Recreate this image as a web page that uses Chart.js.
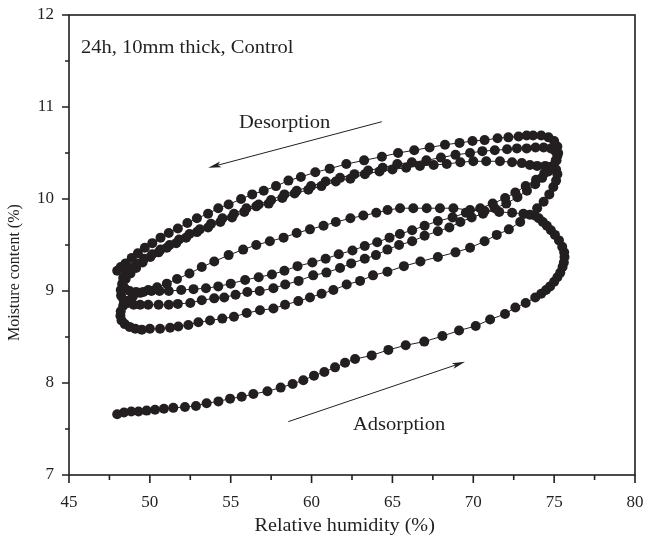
<!DOCTYPE html>
<html>
<head>
<meta charset="utf-8">
<script src="https://cdn.jsdelivr.net/npm/chart.js@4/dist/chart.umd.min.js"></script>
<style>
  html, body { margin: 0; padding: 0; background: #fff; }
  canvas { display: block; }
</style>
</head>
<body>
<canvas id="cycleChart" width="647" height="542"></canvas>
<script>
// [RH %, MC %] readings, one array per half cycle, in time order
const adsorption1 = [
    [47.98, 7.66], [48.4, 7.68], [48.85, 7.69], [49.3, 7.69], [49.8, 7.70], [50.32, 7.71],
    [50.87, 7.72], [51.45, 7.73], [52.17, 7.74], [52.85, 7.75], [53.51, 7.78], [54.24, 7.80],
    [54.96, 7.83], [55.68, 7.85], [56.4, 7.88], [57.27, 7.91], [58.09, 7.95], [58.83, 7.99],
    [59.49, 8.03], [60.15, 8.08], [60.79, 8.12], [61.45, 8.17], [62.07, 8.22], [62.69, 8.26],
    [63.72, 8.30], [64.75, 8.36], [65.82, 8.41], [66.97, 8.45], [68.09, 8.51], [69.12, 8.57],
    [70.15, 8.62], [71.04, 8.69], [71.96, 8.75], [72.6, 8.82], [73.24, 8.87], [73.83, 8.93],
    [74.2, 8.97], [74.5, 9.01], [74.75, 9.05], [75.0, 9.10], [75.2, 9.15], [75.38, 9.20],
    [75.52, 9.26], [75.6, 9.31], [75.64, 9.37], [75.62, 9.42], [75.5, 9.48], [75.3, 9.55],
    [75.05, 9.61], [74.8, 9.66], [74.55, 9.71], [74.3, 9.75], [74.05, 9.79], [73.8, 9.82]
];
const desorption1 = [
    [73.1, 9.84], [72.4, 9.85], [71.6, 9.86], [70.7, 9.87], [69.8, 9.88], [68.77, 9.90],
    [67.94, 9.90], [67.12, 9.90], [66.29, 9.90], [65.47, 9.90], [64.7, 9.88], [64.0, 9.85],
    [63.2, 9.82], [62.4, 9.79], [61.5, 9.75], [60.74, 9.71], [59.9, 9.67], [59.08, 9.63],
    [58.27, 9.58], [57.42, 9.54], [56.58, 9.50], [55.77, 9.45], [54.87, 9.39], [53.98, 9.32],
    [53.21, 9.26], [52.45, 9.19], [51.68, 9.13], [51.05, 9.08], [50.45, 9.04], [49.9, 9.01],
    [49.4, 8.98], [48.95, 8.94], [48.6, 8.89], [48.35, 8.84], [48.2, 8.78], [48.18, 8.73],
    [48.25, 8.68], [48.45, 8.64], [48.75, 8.61], [49.1, 8.59], [49.5, 8.58]
];
const adsorption2 = [
    [50.0, 8.59], [50.63, 8.59], [51.25, 8.60], [51.76, 8.615], [52.38, 8.63], [53.0, 8.66],
    [53.72, 8.68], [54.48, 8.70], [55.2, 8.72], [55.99, 8.76], [56.81, 8.79], [57.64, 8.81],
    [58.36, 8.85], [59.18, 8.89], [59.9, 8.93], [60.62, 8.97], [61.35, 9.01], [62.17, 9.07],
    [63.0, 9.11], [63.8, 9.17], [64.69, 9.21], [65.71, 9.27], [66.73, 9.32], [67.81, 9.37],
    [68.9, 9.42], [69.8, 9.47], [70.7, 9.54], [71.45, 9.61], [72.2, 9.67], [72.9, 9.75],
    [73.5, 9.83], [73.95, 9.90], [74.35, 9.97], [74.7, 10.05], [74.95, 10.13], [75.12, 10.20],
    [75.2, 10.27], [75.12, 10.32], [74.85, 10.35], [74.45, 10.36]
];
const desorption2 = [
    [73.95, 10.36], [73.5, 10.37], [73.0, 10.39], [72.4, 10.40], [71.65, 10.41], [70.8, 10.41],
    [70.0, 10.41], [69.2, 10.40], [68.36, 10.38], [67.55, 10.37], [66.7, 10.36], [65.85, 10.34],
    [65.0, 10.32], [64.2, 10.30], [63.3, 10.27], [62.4, 10.22], [61.5, 10.19], [60.61, 10.14],
    [59.8, 10.10], [58.95, 10.06], [58.19, 10.01], [57.35, 9.95], [56.58, 9.92], [55.84, 9.86],
    [55.08, 9.80], [54.36, 9.75], [53.6, 9.69], [52.91, 9.64], [52.24, 9.58], [51.63, 9.52],
    [51.05, 9.47], [50.54, 9.42], [50.03, 9.37], [49.55, 9.31], [49.15, 9.25], [48.8, 9.19],
    [48.5, 9.13], [48.3, 9.07], [48.2, 9.01], [48.22, 8.95], [48.38, 8.90], [48.65, 8.87],
    [49.0, 8.85], [49.4, 8.85]
];
const adsorption3 = [
    [49.9, 8.85], [50.54, 8.85], [51.17, 8.85], [51.73, 8.86], [52.5, 8.87], [53.21, 8.90],
    [53.98, 8.92], [54.6, 8.93], [55.3, 8.96], [56.03, 8.99], [56.79, 9.00], [57.64, 9.03],
    [58.37, 9.07], [59.2, 9.11], [60.1, 9.17], [60.92, 9.20], [61.76, 9.25], [62.45, 9.30],
    [63.29, 9.35], [63.98, 9.39], [64.69, 9.45], [65.41, 9.50], [66.22, 9.54], [66.99, 9.60],
    [67.81, 9.65], [68.52, 9.69], [69.2, 9.75], [69.9, 9.80], [70.6, 9.84], [71.33, 9.90],
    [72.04, 9.95], [72.73, 10.02], [73.32, 10.09], [73.83, 10.16], [74.26, 10.23], [74.64, 10.30],
    [74.95, 10.36], [75.15, 10.42], [75.2, 10.47], [75.08, 10.52], [74.8, 10.55], [74.35, 10.56]
];
const desorption3 = [
    [73.85, 10.56], [73.3, 10.55], [72.7, 10.55], [72.09, 10.54], [71.33, 10.53], [70.56, 10.52],
    [69.8, 10.50], [68.9, 10.48], [68.0, 10.45], [67.1, 10.42], [66.2, 10.40], [65.3, 10.38],
    [64.4, 10.34], [63.5, 10.31], [62.65, 10.27], [61.76, 10.23], [60.87, 10.19], [59.97, 10.14],
    [59.08, 10.09], [58.32, 10.05], [57.5, 9.99], [56.73, 9.94], [55.97, 9.90], [55.2, 9.84],
    [54.49, 9.79], [53.78, 9.73], [53.09, 9.67], [52.45, 9.62], [51.81, 9.56], [51.22, 9.50],
    [50.66, 9.45], [50.15, 9.40], [49.64, 9.35], [49.22, 9.30], [48.85, 9.25], [48.55, 9.20],
    [48.35, 9.14], [48.3, 9.08], [48.45, 9.03], [48.75, 9.00], [49.15, 8.99], [49.6, 8.99]
];
const adsorption4 = [
    [50.1, 9.00], [50.6, 9.00], [51.17, 9.00], [51.94, 9.01], [52.7, 9.02], [53.47, 9.03],
    [54.23, 9.05], [55.0, 9.08], [55.89, 9.12], [56.73, 9.15], [57.55, 9.18], [58.32, 9.22],
    [59.13, 9.27], [60.05, 9.31], [60.87, 9.35], [61.68, 9.40], [62.53, 9.44], [63.29, 9.49],
    [64.06, 9.53], [64.82, 9.58], [65.46, 9.62], [66.22, 9.66], [66.99, 9.71], [67.81, 9.76],
    [68.72, 9.80], [69.54, 9.85], [70.43, 9.90], [71.2, 9.95], [71.97, 10.01], [72.6, 10.07],
    [73.24, 10.14], [73.88, 10.21], [74.39, 10.28], [74.8, 10.35], [75.1, 10.42], [75.25, 10.50],
    [75.2, 10.57], [75.0, 10.63], [74.65, 10.67], [74.2, 10.69]
];
const desorption4 = [
    [73.7, 10.69], [73.3, 10.69], [72.8, 10.68], [72.17, 10.67], [71.5, 10.66], [70.7, 10.64],
    [69.95, 10.63], [69.15, 10.61], [68.25, 10.59], [67.3, 10.56], [66.35, 10.53], [65.35, 10.50],
    [64.35, 10.46], [63.25, 10.42], [62.15, 10.38], [61.12, 10.33], [60.23, 10.29], [59.34, 10.24],
    [58.57, 10.20], [57.8, 10.14], [57.04, 10.09], [56.33, 10.05], [55.64, 10.00], [54.87, 9.94],
    [54.23, 9.90], [53.6, 9.84], [52.91, 9.79], [52.32, 9.74], [51.73, 9.68], [51.17, 9.63],
    [50.66, 9.58], [50.15, 9.52], [49.69, 9.47], [49.26, 9.41], [48.88, 9.36], [48.5, 9.30],
    [48.2, 9.26], [47.98, 9.22]
];

const xTicks = [45, 50, 55, 60, 65, 70, 75, 80];
const yTicks = [7, 8, 9, 10, 11, 12];

const xTitle = 'Relative humidity (%)';
const yTitle = 'Moisture content (%)';

const notes = [
    { text: '24h, 10mm thick, Control', x: 45.74, y: 11.59 },
    { text: 'Desorption', x: 55.51, y: 10.77 },
    { text: 'Adsorption', x: 62.56, y: 7.49 }
];
// arrows: [fromX, fromY, toX, toY] in data units
const arrows = [
    [64.34, 10.84, 53.61, 10.34],
    [58.56, 7.58, 69.49, 8.23]
];

const ink = '#231f20';
const serif = '"Liberation Serif", "Times New Roman", serif';

const cycle = [adsorption1, desorption1, adsorption2, desorption2,
               adsorption3, desorption3, adsorption4, desorption4]
    .flat()
    .map(([x, y]) => ({ x, y }));

// frame, tick marks, axis titles and the text notes with arrows
const frameAndNotes = {
    id: 'frameAndNotes',
    afterDraw(chart) {
        const { ctx, chartArea: a, scales: { x, y } } = chart;
        ctx.save();
        ctx.strokeStyle = ink;
        ctx.lineWidth = 1.6;
        ctx.strokeRect(a.left, a.top, a.right - a.left, a.bottom - a.top);

        ctx.beginPath();
        x.ticks.forEach(t => {
            const px = x.getPixelForValue(t.value);
            const len = xTicks.includes(t.value) ? 8 : 5;
            ctx.moveTo(px, a.bottom);
            ctx.lineTo(px, a.bottom + len);
        });
        y.ticks.forEach(t => {
            const py = y.getPixelForValue(t.value);
            const len = yTicks.includes(t.value) ? 7 : 4;
            ctx.moveTo(a.left, py);
            ctx.lineTo(a.left - len, py);
        });
        ctx.stroke();

        ctx.fillStyle = ink;
        ctx.textBaseline = 'alphabetic';

        // axis titles
        ctx.font = '18px ' + serif;
        ctx.textAlign = 'center';
        ctx.save();
        ctx.translate(x.getPixelForValue(62.05), 531);
        ctx.scale(1.12, 1);
        ctx.fillText(xTitle, 0, 0);
        ctx.restore();

        ctx.font = '16px ' + serif;
        ctx.save();
        ctx.translate(19, y.getPixelForValue(9.2));
        ctx.rotate(-Math.PI / 2);
        ctx.fillText(yTitle, 0, 0);
        ctx.restore();

        ctx.font = '19px ' + serif;
        ctx.textAlign = 'left';
        notes.forEach(n => {
            ctx.save();
            ctx.translate(x.getPixelForValue(n.x), y.getPixelForValue(n.y));
            ctx.scale(1.08, 1);
            ctx.fillText(n.text, 0, 0);
            ctx.restore();
        });

        ctx.lineWidth = 1;
        arrows.forEach(([x0, y0, x1, y1]) => {
            const sx = x.getPixelForValue(x0), sy = y.getPixelForValue(y0);
            const ex = x.getPixelForValue(x1), ey = y.getPixelForValue(y1);
            const ang = Math.atan2(ey - sy, ex - sx);
            ctx.beginPath();
            ctx.moveTo(sx, sy);
            ctx.lineTo(ex - 8 * Math.cos(ang), ey - 8 * Math.sin(ang));
            ctx.stroke();
            ctx.save();
            ctx.translate(ex, ey);
            ctx.rotate(ang);
            ctx.beginPath();
            ctx.moveTo(0, 0);
            ctx.lineTo(-13, -3);
            ctx.lineTo(-10, 0);
            ctx.lineTo(-13, 3);
            ctx.closePath();
            ctx.fill();
            ctx.restore();
        });
        ctx.restore();
    }
};

new Chart(document.getElementById('cycleChart'), {
    type: 'scatter',
    data: {
        datasets: [{
            data: cycle,
            showLine: true,
            borderColor: ink,
            borderWidth: 1,
            pointRadius: 5,
            pointHoverRadius: 5,
            pointBackgroundColor: ink,
            pointBorderWidth: 0
        }]
    },
    options: {
        responsive: false,
        devicePixelRatio: 1,
        animation: false,
        layout: { padding: { top: 15, right: 12, left: 0, bottom: 0 } },
        plugins: {
            legend: { display: false },
            tooltip: { enabled: false }
        },
        scales: {
            x: {
                type: 'linear',
                min: 45,
                max: 80,
                afterFit: s => {
                    s.height = 67;
                    s.paddingLeft = 0;
                    s.paddingRight = 0;
                },
                afterBuildTicks: s => {
                    s.ticks = [];
                    for (let v = 45; v <= 80; v += 2.5) s.ticks.push({ value: v });
                },
                grid: { display: false, drawTicks: false },
                border: { display: false },
                ticks: {
                    padding: 17,
                    color: ink,
                    font: { family: serif, size: 17 },
                    maxRotation: 0,
                    autoSkip: false,
                    callback: v => xTicks.includes(v) ? String(v) : ''
                }
            },
            y: {
                type: 'linear',
                min: 7,
                max: 12,
                afterFit: s => {
                    s.width = 69;
                    s.paddingTop = 0;
                    s.paddingBottom = 0;
                },
                afterBuildTicks: s => {
                    s.ticks = [];
                    for (let v = 7; v <= 12; v += 0.5) s.ticks.push({ value: v });
                },
                grid: { display: false, drawTicks: false },
                border: { display: false },
                ticks: {
                    padding: 15,
                    color: ink,
                    font: { family: serif, size: 17 },
                    autoSkip: false,
                    callback: v => yTicks.includes(v) ? String(v) : ''
                }
            }
        }
    },
    plugins: [frameAndNotes]
});
</script>
</body>
</html>
